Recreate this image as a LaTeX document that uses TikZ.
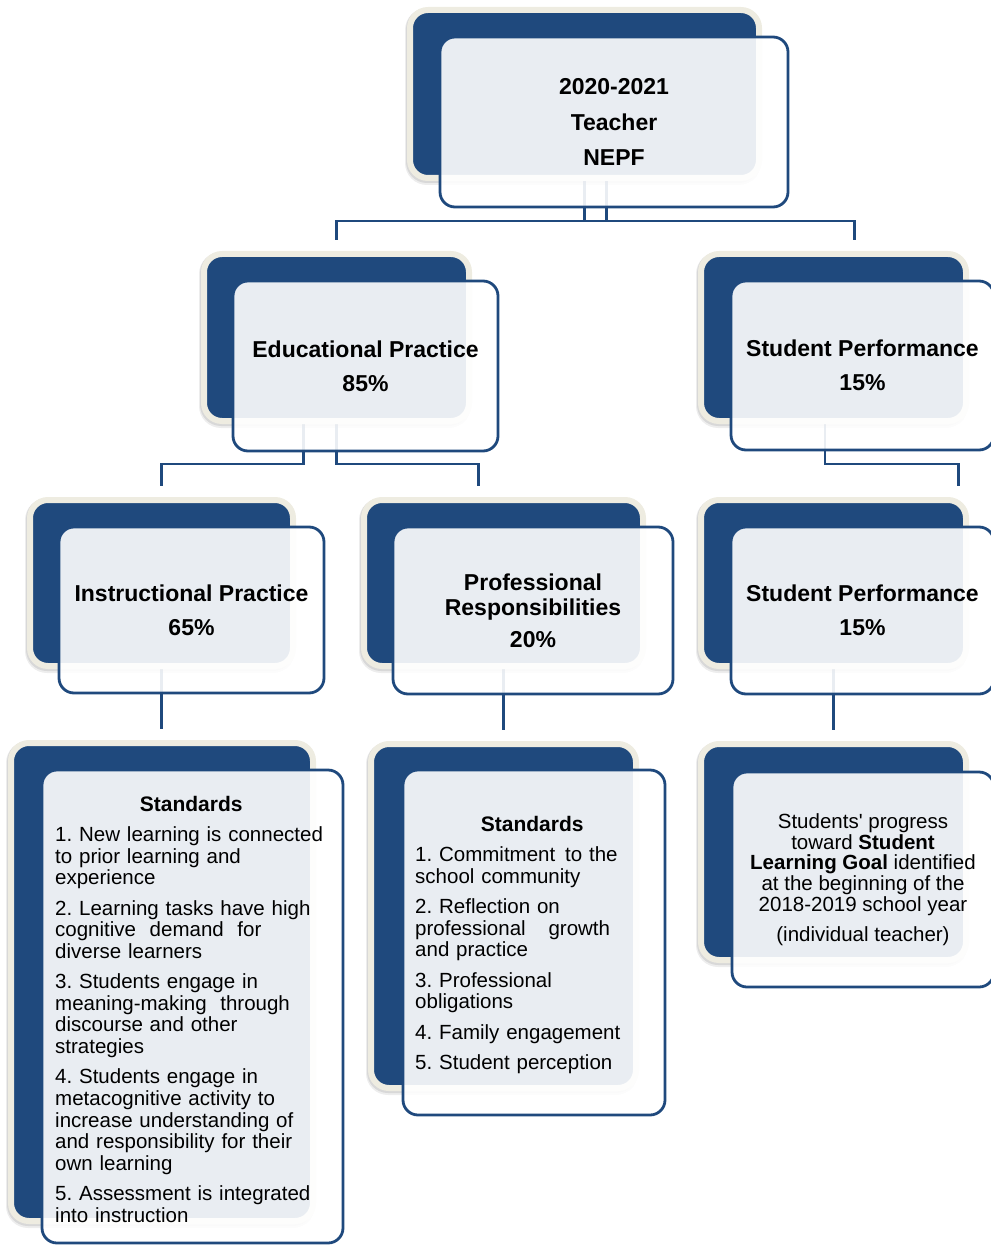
\documentclass[tikz,border=0pt]{standalone}
\usepackage{fontspec}
\setmainfont{Liberation Sans}
\usetikzlibrary{calc}
\definecolor{mynavy}{HTML}{1F497D}
\definecolor{mytan}{HTML}{EEECE1}
\pgfdeclarelayer{bg}
\pgfsetlayers{bg,main}
\tikzset{
  backbox/.style={rectangle, rounded corners=18pt, fill=mynavy, draw=mytan, line width=6pt, inner sep=0pt, outer sep=0pt},
  frontbox/.style={rectangle, rounded corners=15pt, fill=white, fill opacity=0.9, draw=mynavy, draw opacity=1, line width=2.8pt, inner sep=0pt, outer sep=0pt},
  conn/.style={draw=mynavy, line width=2.8pt},
  headtext/.style={font=\fontsize{23}{34}\selectfont\bfseries, align=center, text=black, inner sep=0pt},
  stdtext/.style={font=\fontsize{20.5}{21.6}\selectfont\frenchspacing, align=left, text width=#1, inner sep=0pt, anchor=base west, text=black},
  bodytext/.style={font=\fontsize{20.5}{20.8}\selectfont\frenchspacing, align=center, text=black, inner sep=0pt},
}
\newcommand\unitbox[9]{%
  \fill[black, opacity=.07, rounded corners=22pt] (#2-8,#3-5) rectangle (#4+5,#5+10);
  \fill[black, opacity=.09, rounded corners=21pt] (#2-7,#3-5) rectangle (#4+4,#5+8);
  \node[backbox, minimum width={(#4-#2+6)*1pt}, minimum height={(#5-#3+6)*1pt}] (#1b) at ({(#2+#4)/2},{(#3+#5)/2}) {};
  \node[frontbox, minimum width={(#8-#6)*1pt}, minimum height={(#9-#7)*1pt}] (#1f) at ({(#6+#8)/2},{(#7+#9)/2}) {};
}
\frenchspacing
\begin{document}
\begin{tikzpicture}[x=1pt,y=-1pt]
\useasboundingbox (0,0) rectangle (990,1246);

\unitbox{T}{413}{13}{756}{175}{440}{37}{788}{207}
\unitbox{E}{207}{257}{466}{418}{233}{281}{498}{451}
\unitbox{SA}{704}{257}{963}{418}{731}{281}{994}{450}
\unitbox{I}{33}{503}{290}{663}{59}{527}{324}{693}
\unitbox{P}{367}{503}{640}{663}{393}{527}{673}{694}
\unitbox{SB}{704}{503}{963}{663}{731}{527}{994}{694}
\unitbox{SI}{14}{746}{310}{1218}{42}{770}{343}{1243}
\unitbox{SP}{374}{747}{633}{1085}{403}{770}{665}{1115}
\unitbox{SS}{704}{747}{963}{957}{732}{772}{994}{987}

\node[headtext, font=\fontsize{23}{35.5}\selectfont\bfseries] (Tt) at (Tf) {2020-2021\\Teacher\\NEPF};
\node[headtext] (Et) at (Ef) {Educational Practice\\85\%};
\node[headtext] (SAt) at (SAf) {Student Performance\\15\%};
\node[headtext] (It) at (If) {Instructional Practice\\65\%};
\node[headtext, font=\fontsize{23}{25}\selectfont\bfseries] (Pt) at (Pf) {Professional\\Responsibilities\\[7pt]20\%};
\node[headtext] (SBt) at (SBf) {Student Performance\\15\%};

\node[stdtext=300pt] (SIt) at (55,811) {%
\makebox[272pt][c]{\bfseries\fontsize{21}{21.6}\selectfont Standards}\\[8.8pt]
1. New learning is connected\\
to prior learning and\\
experience\\[8.8pt]
2. Learning tasks have high\\
cognitive\ \ demand\ \ for\\
diverse learners\\[8.8pt]
3. Students engage in\\
meaning-making\ \ through\\
discourse and other\\
strategies\\[8.8pt]
4. Students engage in\\
metacognitive activity to\\
increase understanding of\\
and responsibility for their\\
own learning\\[8.8pt]
5. Assessment is integrated\\
into instruction};

\node[stdtext=245pt] (SPt) at (415,831) {%
\makebox[234pt][c]{\bfseries\fontsize{21}{21.6}\selectfont Standards}\\[8.8pt]
1. Commitment\hspace{3pt} to the\\
school community\\[8.8pt]
2. Reflection on\\
professional\hspace{16pt} growth\\
and practice\\[8.8pt]
3. Professional\\
obligations\\[8.8pt]
4. Family engagement\\[8.8pt]
5. Student perception};

\node[bodytext] (SSt) at (SSf) {Students\textquotesingle{} progress\\
toward \textbf{Student}\\
\textbf{Learning Goal} identified\\
at the beginning of the\\
2018-2019 school year\\[9pt]
(individual teacher)};

\begin{pgfonlayer}{bg}
\draw[conn] ([xshift=22pt]Tb.south) -- ++(0,43) -| ([yshift=14pt]Eb.north);
\draw[conn] (Tb.south) -- ++(0,43) -| ([xshift=21pt,yshift=14pt]SAb.north);
\draw[conn] ([xshift=-33pt]Eb.south) -- ++(0,43) -| ([yshift=14pt]Ib.north);
\draw[conn] (Eb.south) -- ++(0,43) -| ([xshift=-25pt,yshift=14pt]Pb.north);
\draw[conn] ([xshift=-8.5pt]SAb.south) -- ++(0,43) -| ([xshift=125pt,yshift=14pt]SBb.north);
\draw[conn, shorten >=14pt] (Ib.south) -- (Ib.south |- SIb.north);
\draw[conn, shorten >=14pt] (Pb.south) -- (Pb.south |- SPb.north);
\draw[conn, shorten >=14pt] (SBb.south) -- (SBb.south |- SSb.north);
\end{pgfonlayer}
\end{tikzpicture}
\end{document}
